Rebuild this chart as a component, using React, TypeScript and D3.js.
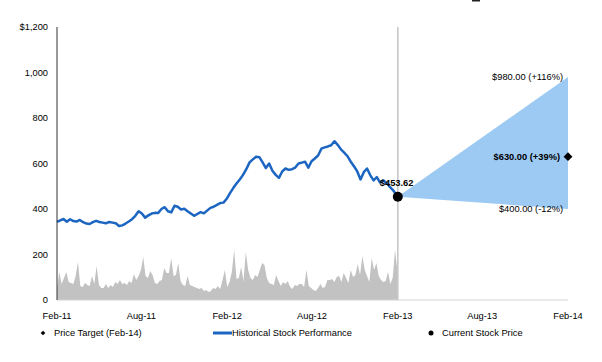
import React, { useEffect, useRef } from 'react';
import * as d3 from 'd3';

// weekly closes from 1 Feb 2011
const priceStart = '2011-02-01';
const weeklyPrice = [
  343, 350, 356, 344, 355, 347, 345, 352, 342, 336,
  334, 342, 348, 343, 340, 337, 343, 340, 337, 325,
  328, 336, 345, 355, 370, 390, 380, 362, 372, 380,
  383, 382, 400, 408, 390, 385, 414, 410, 398, 401,
  390, 380, 370, 378, 386, 381, 393, 405, 410, 418,
  426, 428, 445, 470, 492, 512, 530, 550, 575, 605,
  618, 630, 628, 605, 580, 600, 568, 550, 537, 565,
  578, 572, 575, 582, 600, 604, 608, 582, 610, 622,
  635, 665, 671, 675, 680, 698, 682, 662, 648, 632,
  608, 588, 565, 530, 562, 578, 548, 526, 540, 516,
  526, 514, 497, 482, 462,
];

// volume (millions), one value every 5 days from 1 Feb 2011
const volumeStepDays = 5;
const volume = [
  5.3, 12.3, 7.0, 9.7, 12.3, 7.9, 7.5, 7.0, 10.5, 16.7,
  6.2, 5.7, 7.5, 6.6, 6.2, 10.5, 7.0, 14.9, 6.6, 5.3,
  5.3, 7.0, 5.3, 6.6, 5.7, 7.9, 7.0, 8.8, 7.0, 7.5,
  6.6, 8.4, 7.5, 11.4, 8.8, 10.5, 13.2, 18.9, 10.5, 9.7,
  12.7, 11.0, 7.5, 7.0, 8.4, 8.8, 14.1, 11.9, 11.9, 18.5,
  10.5, 11.0, 16.3, 8.4, 6.6, 6.2, 10.5, 6.6, 6.2, 5.7,
  5.3, 4.8, 5.3, 4.0, 4.4, 3.5, 4.0, 5.3, 4.8, 6.2,
  4.8, 8.8, 13.2, 5.7, 7.9, 12.3, 22.0, 9.2, 9.7, 14.5,
  8.4, 21.1, 13.2, 9.7, 8.8, 11.0, 10.1, 13.2, 16.3, 15.4,
  9.7, 7.5, 7.0, 6.6, 11.0, 8.4, 6.2, 7.9, 7.0, 8.4,
  5.7, 4.8, 6.6, 6.2, 7.0, 7.0, 5.7, 13.2, 6.2, 5.3,
  4.4, 4.0, 5.3, 7.0, 5.3, 5.7, 8.8, 8.8, 9.2, 7.9,
  10.1, 10.5, 7.9, 11.9, 9.7, 7.5, 13.2, 10.1, 11.0, 15.8,
  11.0, 19.3, 13.2, 10.5, 7.9, 18.5, 13.2, 16.3, 10.5, 8.8,
  7.9, 8.4, 12.3, 7.0, 9.7, 22.0, 13.2,
];

const currentDate = '2013-02-01';
const currentPrice = 453.62;
const targetDate = '2014-02-01';
const targetLow = 400;
const targetMid = 630;
const targetHigh = 980;

const xTickLabels = ['2011-02-01', '2011-08-01', '2012-02-01', '2012-08-01', '2013-02-01', '2013-08-01', '2014-02-01'];
const yTicks = [0, 200, 400, 600, 800, 1000, 1200];

const legendItems = ['Price Target (Feb-14)', 'Historical Stock Performance', 'Current Stock Price'];

const W = 602, H = 362;
const FONT = '"Liberation Sans", Arial, Helvetica, sans-serif';

const App = () => {
  const ref = useRef<SVGSVGElement>(null);

  useEffect(() => {
    document.body.style.margin = '0';
    const svg = d3.select(ref.current);
    svg.selectAll('*').remove();

    const margin = { top: 27, right: 34, bottom: 62, left: 57 };
    const height = H - margin.top - margin.bottom;
    const parse = d3.timeParse('%Y-%m-%d');
    const start = parse(priceStart)!;
    const cur = parse(currentDate)!;
    const tgt = parse(targetDate)!;

    const x = d3.scaleTime().domain([start, tgt]).range([margin.left, W - margin.right]);
    const y = d3.scaleLinear().domain([0, 1200]).range([margin.top + height, margin.top]);
    const yVol = d3.scaleLinear().domain([0, 120]).range([margin.top + height, margin.top]);

    const priceData = weeklyPrice.map((p, i) => ({ date: d3.timeWeek.offset(start, i), value: p }));
    priceData.push({ date: cur, value: currentPrice });
    const volData = volume.map((v, i) => ({ date: d3.timeDay.offset(start, i * volumeStepDays), value: v }));

    const g = svg.append('g').attr('font-family', FONT).attr('font-size', 9.3).attr('fill', '#000');

    // volume
    g.append('path')
      .datum(volData)
      .attr('fill', '#c2c2c2')
      .attr('d', d3.area<any>().x(d => x(d.date)).y0(yVol(0)).y1(d => yVol(d.value)));

    // x axis baseline
    g.append('line')
      .attr('x1', margin.left).attr('x2', x(tgt))
      .attr('y1', y(0)).attr('y2', y(0))
      .attr('stroke', '#d4d4d4').attr('stroke-width', 1);

    // forecast cone
    const cone = [
      { date: cur, lo: currentPrice, hi: currentPrice },
      { date: tgt, lo: targetLow, hi: targetHigh },
    ];
    g.append('path')
      .datum(cone)
      .attr('fill', '#9ccaf3')
      .attr('d', d3.area<any>().x(d => x(d.date)).y0(d => y(d.lo)).y1(d => y(d.hi)));

    // today divider
    g.append('line')
      .attr('x1', x(cur)).attr('x2', x(cur))
      .attr('y1', y(1200)).attr('y2', y(0))
      .attr('stroke', '#c4c4c4').attr('stroke-width', 1.5);

    // price line
    g.append('path')
      .datum(priceData)
      .attr('fill', 'none')
      .attr('stroke', '#1c66c2')
      .attr('stroke-width', 2.5)
      .attr('stroke-linejoin', 'round')
      .attr('d', d3.line<any>().x(d => x(d.date)).y(d => y(d.value)));

    // y axis
    g.append('line')
      .attr('x1', margin.left).attr('x2', margin.left)
      .attr('y1', y(1200)).attr('y2', y(0))
      .attr('stroke', '#333').attr('stroke-width', 1);
    g.selectAll('.ylab').data(yTicks).enter().append('text')
      .attr('x', margin.left - 9)
      .attr('y', d => y(d))
      .attr('dy', '0.35em')
      .attr('text-anchor', 'end')
      .text(d => (d === 1200 ? '$' : '') + d3.format(',')(d));

    // x labels
    g.selectAll('.xlab').data(xTickLabels).enter().append('text')
      .attr('x', d => x(parse(d)!))
      .attr('y', 316)
      .attr('dy', '0.35em')
      .attr('text-anchor', 'middle')
      .text(d => d3.timeFormat('%b-%y')(parse(d)!));

    // current price marker
    g.append('circle').attr('cx', x(cur)).attr('cy', y(currentPrice)).attr('r', 5).attr('fill', '#000');
    g.append('text')
      .attr('x', x(cur) - 18).attr('y', y(currentPrice) - 14)
      .attr('dy', '0.35em').attr('font-weight', 'bold')
      .text('$' + d3.format('.2f')(currentPrice));

    // target marker + labels
    const diamond = d3.symbol().type(d3.symbolDiamond2);
    g.append('path')
      .attr('transform', `translate(${x(tgt)},${y(targetMid)})`)
      .attr('d', diamond.size(50)()!)
      .attr('fill', '#000');
    const pct = (v: number) => {
      const p = Math.round((v / currentPrice - 1) * 100);
      return (p >= 0 ? '+' : '-') + Math.abs(p) + '%';
    };
    const lbl = (v: number, bold: boolean, dx: number) =>
      g.append('text')
        .attr('x', x(tgt) - dx).attr('y', y(v))
        .attr('dy', '0.35em').attr('text-anchor', 'end')
        .attr('font-weight', bold ? 'bold' : 'normal')
        .text(`$${d3.format('.2f')(v)} (${pct(v)})`);
    lbl(targetHigh, false, 5);
    lbl(targetMid, true, 8);
    lbl(targetLow, false, 5);

    // legend
    const ly = 333;
    g.append('path')
      .attr('transform', `translate(43,${ly})`)
      .attr('d', diamond.size(14)()!)
      .attr('fill', '#000');
    g.append('text').attr('x', 54).attr('y', ly).attr('dy', '0.35em').text(legendItems[0]);
    g.append('line').attr('x1', 213).attr('x2', 232).attr('y1', ly).attr('y2', ly)
      .attr('stroke', '#1c66c2').attr('stroke-width', 3);
    g.append('text').attr('x', 232).attr('y', ly).attr('dy', '0.35em').text(legendItems[1]);
    g.append('circle').attr('cx', 431).attr('cy', ly).attr('r', 2.5).attr('fill', '#000');
    g.append('text').attr('x', 442).attr('y', ly).attr('dy', '0.35em').text(legendItems[2]);

    // stray mark at top edge
    g.append('rect').attr('x', 472).attr('y', 0).attr('width', 8).attr('height', 1.5).attr('fill', '#222');
  }, []);

  return <svg ref={ref} width={W} height={H} style={{ display: 'block', background: '#fff' }} />;
};

export default App;
